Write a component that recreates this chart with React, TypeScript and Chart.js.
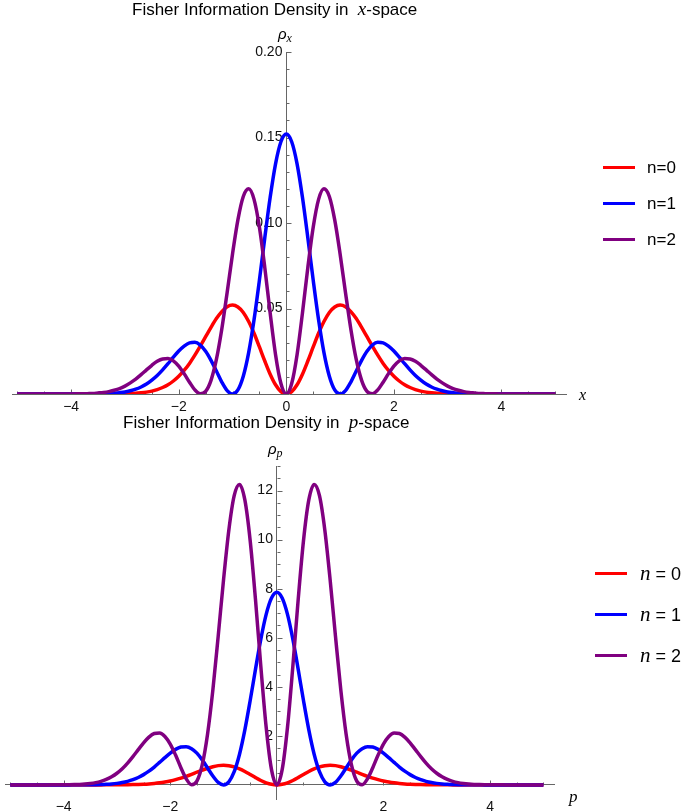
import React, { useEffect, useRef } from "react";
import { Chart, registerables } from "chart.js";

Chart.register(...registerables);

// shared abscissa (x for the top panel, p for the bottom one)
const xGrid = [
  -5.0, -4.9, -4.8, -4.7, -4.6, -4.5, -4.4, -4.3, -4.2, -4.1,
  -4.0, -3.9, -3.8, -3.7, -3.6, -3.5, -3.4, -3.3, -3.2, -3.1,
  -3.0, -2.9, -2.8, -2.7, -2.6, -2.5, -2.4, -2.3, -2.2, -2.1,
  -2.0, -1.9, -1.8, -1.7, -1.6, -1.5, -1.4, -1.3, -1.2, -1.1,
  -1.0, -0.9, -0.8, -0.7, -0.6, -0.5, -0.4, -0.3, -0.2, -0.1,
  0.0,
  0.1, 0.2, 0.3, 0.4, 0.5, 0.6, 0.7, 0.8, 0.9, 1.0,
  1.1, 1.2, 1.3, 1.4, 1.5, 1.6, 1.7, 1.8, 1.9, 2.0,
  2.1, 2.2, 2.3, 2.4, 2.5, 2.6, 2.7, 2.8, 2.9, 3.0,
  3.1, 3.2, 3.3, 3.4, 3.5, 3.6, 3.7, 3.8, 3.9, 4.0,
  4.1, 4.2, 4.3, 4.4, 4.5, 4.6, 4.7, 4.8, 4.9, 5.0,
];

const seriesColors = ["#ff0000", "#0000ff", "#800080"];

// x-space densities
const rhoX0 = [
  0, 0, 0, 0, 0, 0, 0, 0, 0, 0,
  0, 0, 0, 0, 0, 0, 0, 0, 0, 0.0001,
  0.0002, 0.0003, 0.0004, 0.0007, 0.0011, 0.0017, 0.0026, 0.0038, 0.0054, 0.0076,
  0.0104, 0.0138, 0.0179, 0.0227, 0.0280, 0.0335, 0.0390, 0.0441, 0.0482, 0.0510,
  0.0520, 0.0509, 0.0477, 0.0424, 0.0355, 0.0275, 0.0193, 0.0116, 0.0054, 0.0014,
  0,
  0.0014, 0.0054, 0.0116, 0.0193, 0.0275, 0.0355, 0.0424, 0.0477, 0.0509, 0.0520,
  0.0510, 0.0482, 0.0441, 0.0390, 0.0335, 0.0280, 0.0227, 0.0179, 0.0138, 0.0104,
  0.0076, 0.0054, 0.0038, 0.0026, 0.0017, 0.0011, 0.0007, 0.0004, 0.0003, 0.0002,
  0.0001, 0, 0, 0, 0, 0, 0, 0, 0, 0,
  0, 0, 0, 0, 0, 0, 0, 0, 0, 0,
];

const rhoX1 = [
  0, 0, 0, 0, 0, 0, 0, 0, 0, 0,
  0, 0, 0, 0, 0, 0.0001, 0.0002, 0.0003, 0.0005, 0.0008,
  0.0012, 0.0019, 0.0028, 0.0041, 0.0058, 0.0081, 0.0108, 0.0141, 0.0177, 0.0215,
  0.0251, 0.0280, 0.0299, 0.0302, 0.0286, 0.0250, 0.0197, 0.0134, 0.0070, 0.0020,
  0, 0.0024, 0.0104, 0.0242, 0.0434, 0.0666, 0.0914, 0.1150, 0.1346, 0.1475,
  0.1520,
  0.1475, 0.1346, 0.1150, 0.0914, 0.0666, 0.0434, 0.0242, 0.0104, 0.0024, 0,
  0.0020, 0.0070, 0.0134, 0.0197, 0.0250, 0.0286, 0.0302, 0.0299, 0.0280, 0.0251,
  0.0215, 0.0177, 0.0141, 0.0108, 0.0081, 0.0058, 0.0041, 0.0028, 0.0019, 0.0012,
  0.0008, 0.0005, 0.0003, 0.0002, 0.0001, 0, 0, 0, 0, 0,
  0, 0, 0, 0, 0, 0, 0, 0, 0, 0,
];

const rhoX2 = [
  0, 0, 0, 0, 0, 0, 0, 0, 0, 0,
  0, 0.0001, 0.0001, 0.0002, 0.0003, 0.0006, 0.0009, 0.0014, 0.0022, 0.0032,
  0.0046, 0.0065, 0.0087, 0.0113, 0.0141, 0.0168, 0.0191, 0.0205, 0.0207, 0.0194,
  0.0163, 0.0119, 0.0069, 0.0024, 0.0001, 0.0015, 0.0080, 0.0202, 0.0379, 0.0594,
  0.0819, 0.1018, 0.1155, 0.1200, 0.1138, 0.0975, 0.0739, 0.0473, 0.0230, 0.0061,
  0,
  0.0061, 0.0230, 0.0473, 0.0739, 0.0975, 0.1138, 0.1200, 0.1155, 0.1018, 0.0819,
  0.0594, 0.0379, 0.0202, 0.0080, 0.0015, 0.0001, 0.0024, 0.0069, 0.0119, 0.0163,
  0.0194, 0.0207, 0.0205, 0.0191, 0.0168, 0.0141, 0.0113, 0.0087, 0.0065, 0.0046,
  0.0032, 0.0022, 0.0014, 0.0009, 0.0006, 0.0003, 0.0002, 0.0001, 0.0001, 0,
  0, 0, 0, 0, 0, 0, 0, 0, 0, 0,
];

// p-space densities
const rhoP0 = [
  0, 0, 0, 0, 0, 0, 0, 0, 0, 0,
  0, 0, 0, 0, 0, 0, 0, 0, 0.001, 0.001,
  0.002, 0.004, 0.007, 0.011, 0.017, 0.026, 0.039, 0.058, 0.083, 0.117,
  0.159, 0.212, 0.276, 0.349, 0.430, 0.516, 0.600, 0.678, 0.742, 0.785,
  0.800, 0.784, 0.734, 0.653, 0.546, 0.423, 0.296, 0.179, 0.084, 0.022,
  0,
  0.022, 0.084, 0.179, 0.296, 0.423, 0.546, 0.653, 0.734, 0.784, 0.800,
  0.785, 0.742, 0.678, 0.600, 0.516, 0.430, 0.349, 0.276, 0.212, 0.159,
  0.117, 0.083, 0.058, 0.039, 0.026, 0.017, 0.011, 0.007, 0.004, 0.002,
  0.001, 0.001, 0, 0, 0, 0, 0, 0, 0, 0,
  0, 0, 0, 0, 0, 0, 0, 0, 0, 0,
];

const rhoP1 = [
  0, 0, 0, 0, 0, 0, 0, 0, 0, 0,
  0, 0, 0.001, 0.001, 0.003, 0.005, 0.008, 0.014, 0.024, 0.039,
  0.062, 0.096, 0.145, 0.212, 0.302, 0.418, 0.560, 0.728, 0.916, 1.110,
  1.294, 1.447, 1.542, 1.559, 1.477, 1.293, 1.019, 0.690, 0.360, 0.103,
  0, 0.126, 0.536, 1.251, 2.243, 3.439, 4.720, 5.941, 6.951, 7.617,
  7.85,
  7.617, 6.951, 5.941, 4.720, 3.439, 2.243, 1.251, 0.536, 0.126, 0,
  0.103, 0.360, 0.690, 1.019, 1.293, 1.477, 1.559, 1.542, 1.447, 1.294,
  1.110, 0.916, 0.728, 0.560, 0.418, 0.302, 0.212, 0.145, 0.096, 0.062,
  0.039, 0.024, 0.014, 0.008, 0.005, 0.003, 0.001, 0.001, 0, 0,
  0, 0, 0, 0, 0, 0, 0, 0, 0, 0,
];

const rhoP2 = [
  0, 0, 0, 0, 0, 0, 0, 0, 0.001, 0.002,
  0.003, 0.006, 0.011, 0.019, 0.034, 0.057, 0.091, 0.144, 0.221, 0.329,
  0.474, 0.658, 0.889, 1.154, 1.436, 1.713, 1.947, 2.096, 2.117, 1.976,
  1.665, 1.215, 0.702, 0.247, 0.007, 0.150, 0.813, 2.066, 3.871, 6.064,
  8.359, 10.393, 11.790, 12.248, 11.616, 9.954, 7.539, 4.824, 2.349, 0.620,
  0,
  0.620, 2.349, 4.824, 7.539, 9.954, 11.616, 12.248, 11.790, 10.393, 8.359,
  6.064, 3.871, 2.066, 0.813, 0.150, 0.007, 0.247, 0.702, 1.215, 1.665,
  1.976, 2.117, 2.096, 1.947, 1.713, 1.436, 1.154, 0.889, 0.658, 0.474,
  0.329, 0.221, 0.144, 0.091, 0.057, 0.034, 0.019, 0.011, 0.006, 0.003,
  0.002, 0.001, 0, 0, 0, 0, 0, 0, 0, 0,
];

const xTicksTop = [-4, -2, 0, 2, 4];
const xTicksBottom = [-4, -2, 2, 4];
const yTicksTop = [0.05, 0.1, 0.15, 0.2];
const yTicksBottom = [2, 4, 6, 8, 10, 12];

const SANS = "'Liberation Sans', Arial, sans-serif";
const SERIF = "'Liberation Serif', 'Times New Roman', serif";
const AXIS = "#666";

const minus = (v: number) => String(v).replace("-", "\u2212");

// small Mathematica-style tick marks pointing into the first quadrant
const axisTicks = {
  id: "axisTicks",
  beforeDatasetsDraw(chart: any, _args: any, opts: any) {
    const { ctx } = chart;
    const xs = chart.scales.x;
    const ys = chart.scales.y;
    const x0 = Math.round(xs.getPixelForValue(0)) + 0.5;
    const y0 = Math.round(ys.getPixelForValue(0)) + 0.5;
    ctx.save();
    ctx.strokeStyle = AXIS;
    ctx.lineWidth = 1;
    ctx.beginPath();
    for (let k = -10; k <= 10; k++) {
      if (k === 0) continue;
      const px = Math.round(xs.getPixelForValue(k * 0.5)) + 0.5;
      const len = k % 4 === 0 ? 5 : 3;
      ctx.moveTo(px, y0);
      ctx.lineTo(px, y0 - len);
    }
    for (let k = 1; k <= opts.count; k++) {
      const py = Math.round(ys.getPixelForValue(k * opts.step)) + 0.5;
      const len = k % opts.major === 0 ? 5 : 3;
      ctx.moveTo(x0, py);
      ctx.lineTo(x0 + len, py);
    }
    ctx.stroke();
    ctx.restore();
  },
};

type PanelProps = {
  top: number;
  height: number;
  series: number[][];
  padding: { left: number; right: number; top: number; bottom: number };
  yMin: number;
  yMax: number;
  xTicks: number[];
  yTicks: number[];
  yDigits: number;
  xLabelPad: number;
  tick: { step: number; count: number; major: number };
};

const Panel: React.FC<PanelProps> = (p) => {
  const canvasRef = useRef<HTMLCanvasElement>(null);

  useEffect(() => {
    if (!canvasRef.current) return;
    const ctx = canvasRef.current.getContext("2d");
    if (!ctx) return;
    const chart = new Chart(ctx, {
      type: "line",
      data: {
        datasets: p.series.map((ys, i) => ({
          label: "n=" + i,
          data: xGrid.map((x, j) => ({ x, y: ys[j] })),
          borderColor: seriesColors[i],
          borderWidth: 3.5,
          pointRadius: 0,
          fill: false,
          cubicInterpolationMode: "monotone" as const,
          order: 2 - i,
        })),
      },
      options: {
        animation: false,
        responsive: false,
        events: [],
        layout: { padding: p.padding },
        plugins: {
          legend: { display: false },
          tooltip: { enabled: false },
          // @ts-ignore
          axisTicks: p.tick,
        },
        scales: {
          x: {
            type: "linear",
            min: -5.1,
            max: 5.2,
            position: { y: 0 } as any,
            afterBuildTicks: (s: any) => {
              s.ticks = p.xTicks.map((v) => ({ value: v }));
            },
            ticks: {
              padding: p.xLabelPad,
              color: "#111",
              font: { family: SANS, size: 14 },
              maxRotation: 0,
              autoSkip: false,
              callback: (v: any) => minus(Number(v)),
            },
            grid: { drawOnChartArea: false, drawTicks: false },
            border: { color: AXIS, width: 1 },
          },
          y: {
            type: "linear",
            min: p.yMin,
            max: p.yMax,
            position: { x: 0 } as any,
            afterBuildTicks: (s: any) => {
              s.ticks = p.yTicks.map((v) => ({ value: v }));
            },
            ticks: {
              color: "#111",
              font: { family: SANS, size: 14 },
              autoSkip: false,
              callback: (v: any) => Number(v).toFixed(p.yDigits) + " ",
            },
            grid: { drawOnChartArea: false, drawTicks: false },
            border: { color: AXIS, width: 1 },
          },
        },
      },
      plugins: [axisTicks],
    });
    return () => {
      chart.destroy();
    };
  }, []);

  return (
    <canvas
      ref={canvasRef}
      width={685}
      height={p.height}
      style={{ position: "absolute", left: 0, top: p.top, width: 685, height: p.height }}
    />
  );
};

const abs = (left: number, cy: number, extra: React.CSSProperties = {}): React.CSSProperties => ({
  position: "absolute",
  left,
  top: cy,
  transform: "translateY(-50%)",
  lineHeight: 1,
  whiteSpace: "pre",
  color: "#000",
  fontFamily: SANS,
  ...extra,
});

const Swatch: React.FC<{ left: number; cy: number; color: string }> = ({ left, cy, color }) => (
  <div style={{ position: "absolute", left, top: cy - 1.5, width: 32, height: 3, background: color }} />
);

const App: React.FC = () => {
  return (
    <div style={{ position: "absolute", left: 0, top: 0, width: 685, height: 811, background: "#fff" }}>
      <Panel
        top={0}
        height={415}
        series={[rhoX0, rhoX1, rhoX2]}
        padding={{ left: 12, right: 119, top: 52, bottom: 21 }}
        yMin={0}
        yMax={0.2}
        xTicks={xTicksTop}
        yTicks={yTicksTop}
        yDigits={2}
        xLabelPad={5}
        tick={{ step: 0.01, count: 20, major: 5 }}
      />
      <Panel
        top={415}
        height={396}
        series={[rhoP0, rhoP1, rhoP2]}
        padding={{ left: 5, right: 131, top: 51, bottom: 3 }}
        yMin={-0.6}
        yMax={13}
        xTicks={xTicksBottom}
        yTicks={yTicksBottom}
        yDigits={0}
        xLabelPad={14}
        tick={{ step: 0.5, count: 26, major: 4 }}
      />

      {/* titles */}
      <div style={abs(132, 8, { fontSize: 17 })}>
        {"Fisher Information Density in  "}
        <span style={{ fontFamily: SERIF, fontStyle: "italic", fontSize: 19 }}>x</span>
        {"-space"}
      </div>
      <div style={abs(123, 421, { fontSize: 17 })}>
        {"Fisher Information Density in  "}
        <span style={{ fontFamily: SERIF, fontStyle: "italic", fontSize: 19 }}>p</span>
        {"-space"}
      </div>

      {/* axis labels */}
      <div style={abs(278, 35, { fontSize: 15, fontStyle: "italic" })}>
        ρ<span style={{ fontFamily: SERIF, fontSize: 12, verticalAlign: -3 }}>x</span>
      </div>
      <div style={abs(268, 450, { fontSize: 15, fontStyle: "italic" })}>
        ρ<span style={{ fontFamily: SERIF, fontSize: 12, verticalAlign: -3 }}>p</span>
      </div>
      <div style={abs(579, 395, { fontFamily: SERIF, fontStyle: "italic", fontSize: 16 })}>x</div>
      <div style={abs(569, 796, { fontFamily: SERIF, fontStyle: "italic", fontSize: 17 })}>p</div>

      {/* legend, x-space */}
      {[167, 203, 239].map((cy, i) => (
        <React.Fragment key={"a" + i}>
          <Swatch left={603} cy={cy} color={seriesColors[i]} />
          <div style={abs(647, cy, { fontSize: 17 })}>{"n=" + i}</div>
        </React.Fragment>
      ))}

      {/* legend, p-space */}
      {[573, 614, 655].map((cy, i) => (
        <React.Fragment key={"b" + i}>
          <Swatch left={595} cy={cy} color={seriesColors[i]} />
          <div style={abs(640, cy, { fontSize: 18 })}>
            <span style={{ fontFamily: SERIF, fontStyle: "italic", fontSize: 21 }}>n</span>
            {" = " + i}
          </div>
        </React.Fragment>
      ))}
    </div>
  );
};

export default App;
